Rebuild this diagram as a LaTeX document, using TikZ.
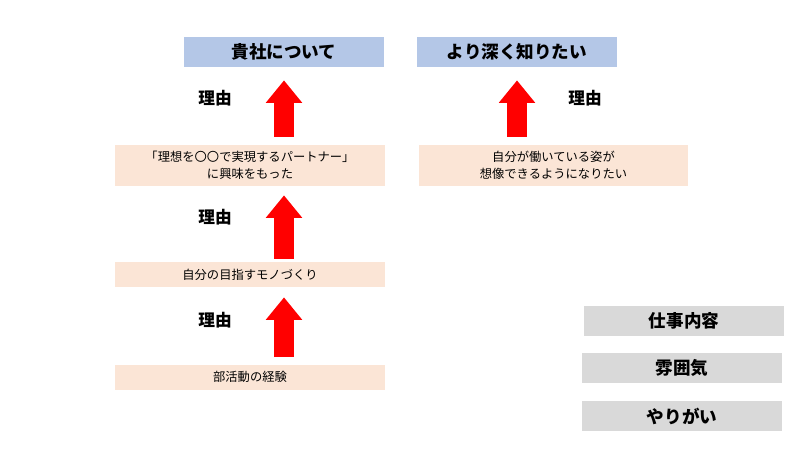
\documentclass[tikz,border=0pt]{standalone}
\usepackage{fontspec}
\setmainfont{Noto Sans CJK JP}
\usetikzlibrary{arrows.meta}
\definecolor{titleblue}{HTML}{B4C7E7}
\definecolor{peach}{HTML}{FBE5D6}
\definecolor{greybox}{HTML}{D9D9D9}
\tikzstyle{styletitle} = [rectangle, minimum width=4cm, minimum height=0.6cm, text centered, fill=titleblue, font=\fontsize{10}{12}\selectfont\bfseries]
\tikzstyle{stylereason} = [rectangle, minimum width=5.4cm, text centered, fill=peach, font=\fontsize{7}{10}\selectfont, align=center]
\tikzstyle{stylegrey} = [rectangle, minimum width=4cm, minimum height=0.6cm, text centered, fill=greybox, font=\fontsize{10}{12}\selectfont\bfseries]
\tikzstyle{stylewhy} = [font=\fontsize{9.5}{12}\selectfont\bfseries]
\tikzstyle{bigarrow} = [red, line width=0.4cm, -{Triangle[width=0.7cm,length=0.45cm]}]

\begin{document}
\begin{tikzpicture}[x=0.02cm, y=-0.02cm]
\useasboundingbox (0,0) rectangle (800,450);
\node (t1) [styletitle] at (284,52) {貴社について};
\node (t2) [styletitle] at (517,52) {より深く知りたい};

\node (r1) [stylereason, minimum height=0.82cm] at (250,165.5) {「理想を〇〇で実現するパートナー」\\に興味をもった};
\node (r2) [stylereason, minimum height=0.82cm] at (553.5,165.5) {自分が働いている姿が\\想像できるようになりたい};
\node (r3) [stylereason, minimum height=0.5cm] at (250,274.5) {自分の目指すモノづくり};
\node (r4) [stylereason, minimum height=0.5cm] at (250,377) {部活動の経験};

\node (g1) [stylegrey] at (684,321) {仕事内容};
\node (g2) [stylegrey] at (682,368) {雰囲気};
\node (g3) [stylegrey] at (682,416) {やりがい};

\node (w1) [stylewhy] at (215,98) {理由};
\node (w2) [stylewhy] at (585,98) {理由};
\node (w3) [stylewhy] at (215,217) {理由};
\node (w4) [stylewhy] at (215,320) {理由};

\draw [bigarrow, shorten <=0.16cm, shorten >=0.26cm] (r1.north -| t1) -- (t1.south);
\draw [bigarrow, shorten <=0.16cm, shorten >=0.26cm] (r2.north -| t2) -- (t2.south);
\draw [bigarrow, shorten <=0.06cm, shorten >=0.18cm] (r3.north -| t1) -- (r1.south -| t1);
\draw [bigarrow, shorten <=0.14cm, shorten >=0.2cm] (r4.north -| t1) -- (r3.south -| t1);
\end{tikzpicture}
\end{document}
